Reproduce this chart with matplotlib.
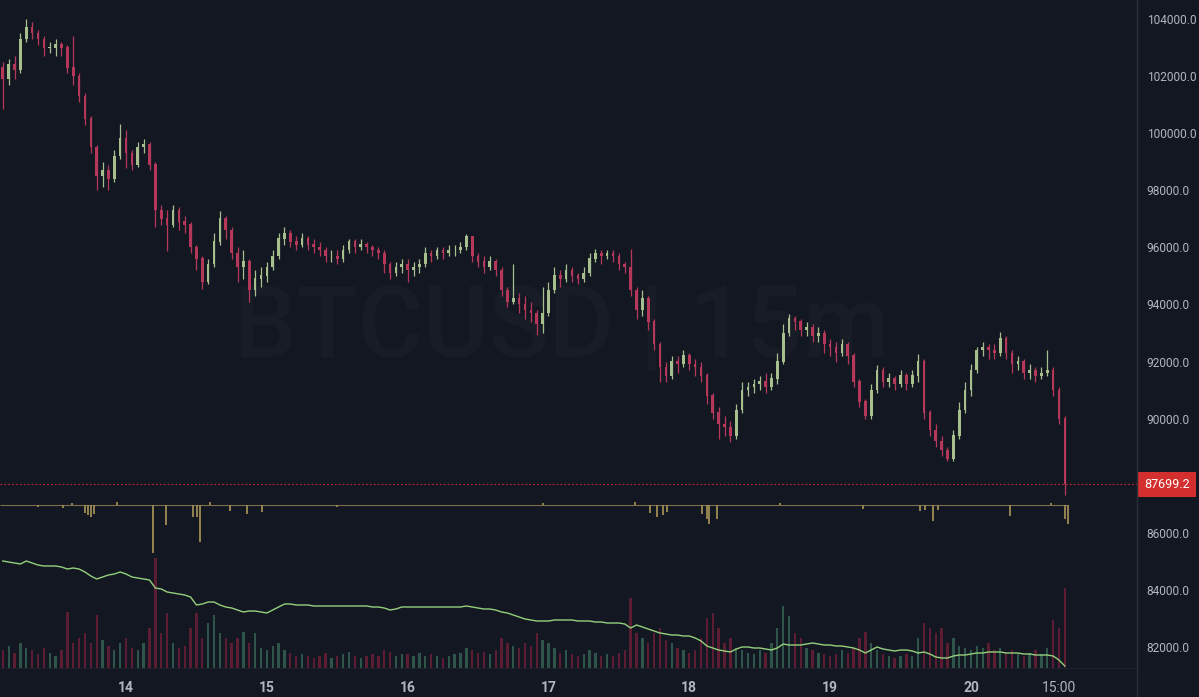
import matplotlib.pyplot as plt
import matplotlib.transforms as mtransforms
from matplotlib.lines import Line2D
import numpy as np

# hourly bars, x = hours since the 13th 00:00
hours = np.arange(3, 185)
first_open = 102300

closes = [
    101900, 102400, 102200, 103300, 103700, 103500, 103300, 103000, 103000, 103100, 103000, 102300,
    102000, 101300, 100500, 99500, 98500, 98700, 98400, 99200, 99800,
    99300, 98900, 99500, 99600, 98900, 97300, 97000, 96800, 97300, 96900, 96800, 96000,
    95600, 94800, 95400, 96200, 97000, 96600, 95800, 95300, 95500, 94500, 94900, 95000,
    95300, 95700, 96300, 96500, 96200, 96100, 96300, 96100, 96000, 95900, 95700, 95700,
    95600, 95900, 96200, 96000, 96100, 96000, 95900, 95800, 95400, 95100, 95300, 95400,
    95200, 95300, 95400, 95800, 95700, 95900, 95800, 95900, 95900, 96000, 96400, 95700,
    95500, 95300, 95500, 95200, 94500, 94100, 94200, 94000, 93800, 93700, 93300, 93700,
    94500, 95000, 94900, 95200, 95000, 94900, 95100, 95600, 95800, 95700, 95800, 95700,
    95400, 95300, 94500, 93800, 94200, 93400, 92600, 91800, 91500, 92000, 91900, 92200,
    91900, 91800, 91500, 90800, 90200, 89800, 89700, 89400, 90300, 91000, 91100, 91200,
    91300, 91100, 91400, 92000, 93000, 93500, 93400, 93100, 93200, 92900, 93000, 92600,
    92500, 92300, 92600, 92200, 91300, 90600, 90100, 91000, 91700, 91300, 91400, 91200,
    91500, 91200, 91500, 92000, 90200, 89600, 89200, 88900, 88600, 89400, 90300, 91000,
    91700, 92400, 92500, 92400, 92300, 92800, 92300, 91900, 92000, 91600, 91700, 91500,
    91600, 91700, 91000, 90000, 87699.2,
]
highs = [
    102500, 102600, 102700, 103500, 104000, 103900, 103600, 103400, 103200, 103300, 103200, 103100,
    103400, 102100, 101400, 100600, 99600, 99000, 98900, 99400, 100330,
    100100, 99400, 99700, 99800, 99700, 99000, 97500, 97300, 97500, 97400, 97100, 96900,
    96100, 95700, 95600, 96500, 97270, 97100, 96700, 96000, 95900, 95600, 95200, 95300,
    95500, 95900, 96500, 96700, 96600, 96400, 96500, 96400, 96300, 96200, 96000, 95900,
    95900, 96100, 96310, 96300, 96300, 96200, 96100, 96000, 95900, 95500, 95500, 95600,
    95600, 95500, 95600, 96000, 95900, 96000, 96000, 96100, 96100, 96200, 96460, 96400,
    95800, 95700, 95700, 95600, 95300, 94600, 95430, 94400, 94300, 94100, 93800, 94600,
    94800, 95300, 95200, 95400, 95300, 95100, 95300, 95800, 95950, 95900, 95900, 95900,
    95800, 95500, 95930, 94600, 94500, 94300, 93500, 92700, 92000, 92200, 92200, 92400,
    92300, 92100, 92000, 91600, 90900, 90400, 90100, 89900, 90500, 91270, 91300, 91400,
    91500, 91600, 91600, 92300, 93300, 93670, 93600, 93500, 93400, 93300, 93200, 93100,
    92800, 92700, 92800, 92700, 92300, 91400, 90700, 91200, 91870, 91800, 91600, 91500,
    91700, 91600, 91700, 92260, 92100, 90300, 89800, 89400, 89000, 89600, 90600, 91270,
    91900, 92500, 92700, 92600, 92600, 93030, 92900, 92400, 92200, 92100, 91900, 91800,
    91800, 92400, 91800, 91100, 90100,
]
lows = [
    100860, 101700, 101900, 102100, 103200, 103300, 103100, 102700, 102800, 102700, 102700, 102100,
    101700, 101100, 100300, 99300, 98000, 98100, 98000, 98300, 99100,
    98780, 98700, 98800, 99300, 98700, 96700, 96800, 95860, 96700, 96600, 96500, 95800,
    95200, 94550, 94700, 95300, 96100, 96300, 95600, 94800, 94900, 94090, 94300, 94600,
    94800, 95200, 95600, 96100, 96000, 95900, 96000, 95900, 95800, 95700, 95500, 95500,
    95400, 95500, 95800, 95800, 95900, 95800, 95700, 95600, 95100, 94900, 95000, 95100,
    94800, 95000, 95100, 95300, 95500, 95600, 95600, 95700, 95700, 95800, 95900, 95500,
    95300, 95100, 95200, 95000, 94300, 93900, 94000, 93700, 93500, 93400, 92930, 93000,
    93600, 94400, 94600, 94800, 94800, 94700, 94800, 95000, 95500, 95400, 95600, 95500,
    95200, 95100, 94300, 93500, 93600, 93100, 92400, 91270, 91300, 91400, 91600, 91800,
    91700, 91500, 91300, 90500, 90000, 89300, 89400, 89190, 89300, 90200, 90800, 90900,
    91000, 90900, 91000, 91200, 91900, 92900, 93100, 92900, 92900, 92700, 92700, 92300,
    92200, 92000, 92200, 91900, 91100, 90400, 89970, 90000, 90900, 91100, 91100, 91000,
    91100, 91000, 91100, 91300, 90000, 89400, 89000, 88700, 88520, 88500, 89300, 90200,
    90800, 91600, 92200, 92100, 92100, 92200, 92100, 91600, 91700, 91400, 91400, 91300,
    91400, 91500, 90800, 89800, 87320,
]
volume = [
    18, 22, 15, 25, 20, 18, 14, 20, 15, 12, 18, 56, 25, 30, 35, 25, 53, 28, 22, 18, 25,
    30, 20, 18, 25, 40, 110, 35, 55, 25, 20, 22, 40, 55, 30, 45, 53, 35, 30, 25, 30, 36, 25, 35, 20,
    18, 22, 25, 18, 15, 12, 14, 12, 10, 12, 15, 10, 12, 14, 16, 12, 10, 12, 14, 12, 18, 16, 12, 14,
    14, 12, 15, 12, 14, 12, 10, 12, 14, 15, 20, 18, 15, 16, 14, 18, 30, 25, 22, 20, 25, 22, 35, 28,
    25, 20, 15, 18, 14, 12, 14, 18, 15, 12, 14, 12, 15, 18, 70, 35, 30, 25, 35, 40, 28, 25, 20, 18,
    15, 18, 30, 50, 55, 40, 25, 30, 20, 18, 15, 14, 18, 15, 25, 40, 62, 52, 35, 30, 20, 18, 15, 14,
    12, 14, 18, 15, 20, 30, 36, 25, 18, 14, 12, 10, 12, 14, 12, 30, 45, 40, 35, 40, 25, 30, 22, 20,
    18, 22, 20, 25, 18, 20, 15, 18, 14, 12, 15, 18, 14, 20, 48, 40, 80,
]
cvd = [
    107, 106, 105, 104, 107, 105, 103, 102, 102, 102, 101, 99, 100, 99, 96, 92, 89, 91, 93, 94, 96,
    94, 91, 90, 89, 88, 80, 79, 76, 75, 74, 73, 71, 63, 64, 66, 66, 63, 61, 60, 58, 56, 57, 57, 56,
    55, 58, 61, 64, 64, 63, 63, 63, 62, 62, 62, 62, 62, 62, 62, 62, 62, 62, 61, 61, 60, 58, 59, 61,
    61, 61, 61, 61, 61, 61, 61, 61, 61, 61, 62, 61, 60, 59, 59, 58, 56, 55, 53, 51, 49, 48, 47, 47,
    47, 48, 48, 48, 48, 47, 47, 47, 46, 46, 45, 45, 45, 44, 40, 43, 41, 39, 37, 35, 34, 33, 33, 32,
    32, 30, 27, 22, 20, 18, 17, 16, 19, 21, 21, 20, 20, 19, 18, 20, 24, 23, 23, 23, 24, 25, 24, 23,
    23, 22, 22, 21, 20, 18, 15, 18, 21, 19, 18, 17, 18, 18, 17, 15, 16, 14, 11, 10, 10, 12, 13, 13,
    14, 15, 15, 16, 16, 16, 15, 15, 15, 14, 14, 13, 13, 13, 12, 8, 2,
]
osc_hours = [9.0, 13.3, 14.8, 17.0, 17.5, 18.0, 18.5, 22.5, 28.6, 30.8, 35.4, 36.1, 36.6, 38.3,
             41.7, 44.6, 47.2, 60.0, 95.0, 110.8, 113.3, 114.5, 115.6, 116.2, 122.2, 123.0,
             123.4, 124.7, 135.5, 149.6, 159.3, 160.2, 161.5, 162.4, 174.7, 181.7, 184.0, 184.5]
osc_vals = [-2, -3, 2, -8, -10, -12, -9, 3, -48, -20, -12, -12, -37, 3,
            -6, -9, -7, -2, 2, 3, -8, -12, -10, -7, -9, -14,
            -19, -14, 2, -4, -6, -5, -16, -5, -11, 2, -14, -19]

day_ticks = [24, 48, 72, 96, 120, 144, 168, 183]
day_labels = ['14', '15', '16', '17', '18', '19', '20', '15:00']
price_ticks = np.arange(82000, 104001, 2000)
symbol = 'BTCUSD | 15m'

BG = '#131722'
UP = '#a7bf8d'
DOWN = '#b5375a'
TXT = '#b2b5be'

closes = np.array(closes, dtype=float)
opens = np.r_[first_open, closes[:-1]]
up = closes >= opens
cols = np.where(up, UP, DOWN)

fig = plt.figure(figsize=(11.99, 6.97), dpi=100, facecolor=BG)
ax = fig.add_axes([0, 29 / 697, 1137 / 1199, 668 / 697])
ax.set_facecolor(BG)
# overlay panes for volume / line and the histogram (made before the price ticks are set,
# because twinx moves the host ticks to the left)
ax2 = ax.twinx()
ax3 = ax.twinx()

ax.text(0.494, 0.506, symbol, transform=ax.transAxes, ha='center', va='center',
        fontsize=72, family='Roboto', weight='medium', color='#181c27', zorder=0)

ax.vlines(hours, lows, highs, colors=cols, lw=0.9, zorder=2)
ax.bar(hours, np.abs(closes - opens) + 15, bottom=np.minimum(opens, closes),
       width=0.45, color=cols, zorder=3)

last_price = closes[-1]
ax.axhline(last_price, color='#c62828', lw=0.8, ls=(0, (1.5, 2)), zorder=4)

ax.set_xlim(2.52, 196.3)
ax.set_ylim(81264, 104666)
ax.set_yticks(price_ticks, [f'{p:.1f}' for p in price_ticks])
ax.set_xticks(day_ticks, day_labels)
ax.yaxis.tick_right()
ax.tick_params(axis='y', length=0, pad=7, labelsize=8.6, labelcolor=TXT, left=False, labelleft=False,
               right=True, labelright=True)
ax.tick_params(axis='x', length=0, pad=9, labelsize=10, labelcolor=TXT)
for lab in ax.get_yticklabels():
    lab.set_family('Roboto')
for lab in ax.get_xticklabels():
    lab.set_family('Roboto')
    lab.set_weight('bold' if ':' not in lab.get_text() else 'normal')
for s in ['top', 'left']:
    ax.spines[s].set_visible(False)
ax.spines['right'].set_color('#2a2e39')
ax.spines['bottom'].set_color('#1e222d')

trans = mtransforms.blended_transform_factory(ax.transAxes, ax.transData)
ax.text(1.0 + 7 / 1137, last_price, f'{last_price:.1f}', transform=trans, ha='left',
        va='center', fontsize=9, family='Roboto', color='white', zorder=10, clip_on=False,
        bbox=dict(boxstyle='square,pad=0.5', fc='#d32f2f', ec='none'))

# volume and cumulative line, own scale
ax2.set_ylim(0, 668)
ax2.bar(hours, volume, width=0.4, color=np.where(up, '#355f51', '#6a1d34'), alpha=0.85, zorder=1)
ax2.plot(hours, cvd, color='#93d07c', lw=1.0, zorder=3)
ax2.axis('off')

# oscillator histogram
ax3.set_ylim(-163, 505)
ax3.hlines(0, hours[0] - 0.5, hours[-1] + 0.5, color='#7d7049', lw=0.8)
ax3.vlines(osc_hours, 0, osc_vals, color='#a08c55', lw=1.3)
ax3.axis('off')

fig.add_artist(Line2D([1137 / 1199] * 2, [0, 1], transform=fig.transFigure, color='#2a2e39', lw=1))

fig.savefig('out.png', dpi=100, facecolor=BG)
